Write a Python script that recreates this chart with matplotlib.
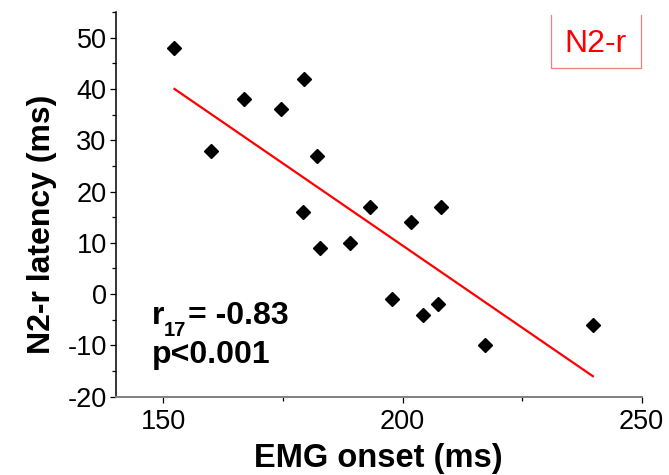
import matplotlib
matplotlib.use("Agg")
import matplotlib.pyplot as plt
from matplotlib.ticker import MultipleLocator
from matplotlib.lines import Line2D

plt.rcParams['font.family'] = ['Liberation Sans', 'DejaVu Sans']
plt.rcParams['axes.unicode_minus'] = False

# EMG onset vs. N2-r latency, one diamond per subject
emg_onset = [152.3, 179.4, 166.8, 174.6, 159.9, 182.2, 179.2, 182.8, 189.0,
             193.2, 208.0, 201.8, 197.7, 207.5, 204.2, 217.3, 239.8]
n2r_latency = [48, 42, 38, 36, 28, 27, 16, 9, 10,
               17, 17, 14, -1, -2, -4, -10, -6]

# linear fit line endpoints
fit_x = [152.3, 239.8]
fit_y = [40.0, -16.0]

x_ticks = [150, 200, 250]
y_ticks = [-20, -10, 0, 10, 20, 30, 40, 50]

fig = plt.figure(figsize=(6.69, 4.75), dpi=100)
ax = fig.add_axes([0.1729, 0.1648, 0.7862, 0.8099])

ax.plot(fit_x, fit_y, color='#ff0000', lw=1.6, zorder=2)
ax.plot(emg_onset, n2r_latency, linestyle='none', marker='D', ms=7.6,
        color='black', zorder=3)

ax.set_xlim(140, 250)
ax.set_ylim(-20, 55)
ax.set_xticks(x_ticks)
ax.set_yticks(y_ticks)
ax.xaxis.set_minor_locator(MultipleLocator(25))
ax.yaxis.set_minor_locator(MultipleLocator(5))

for s in ('top', 'right'):
    ax.spines[s].set_visible(False)
ax.spines['left'].set_linewidth(1.1)
ax.spines['left'].set_color('black')
ax.spines['bottom'].set_linewidth(1.4)
ax.spines['bottom'].set_color('#808080')

ax.tick_params(which='major', direction='out', length=4.5, width=0.9,
               labelsize=19.5, pad=2)
ax.tick_params(axis='x', which='major', pad=4)
ax.tick_params(which='minor', direction='out', length=2.6, width=0.9)

ax.set_xlabel('EMG onset (ms)', fontsize=23.5, fontweight='bold', labelpad=6)
ax.set_ylabel('N2-r latency (ms)', fontsize=23, fontweight='bold')
ax.yaxis.set_label_coords(-0.112, 0.449)

# correlation annotation: r with subscript degrees of freedom
anchor = (0.068, 0.19)
common = dict(xycoords='axes fraction', textcoords='offset points',
              fontweight='bold', ha='left', va='baseline')
ax.annotate('r', xy=anchor, xytext=(0, 0), fontsize=23, **common)
ax.annotate('17', xy=anchor, xytext=(9.0, -9.0), fontsize=14.5, **common)
ax.annotate('= -0.83', xy=anchor, xytext=(26.5, 0), fontsize=23, **common)
ax.text(0.068, 0.088, 'p<0.001', transform=ax.transAxes,
        fontsize=23, fontweight='bold', ha='left', va='baseline')

# label box in the upper right corner (open at the top)
bx0, bx1, by0, by1 = 550.7 / 669, 640.7 / 669, 1 - 68.3 / 475, 1 - 15 / 475
box_col = '#f08080'
fig.add_artist(Line2D([bx0, bx0, bx1, bx1], [by1, by0, by0, by1],
                      transform=fig.transFigure, color=box_col, lw=0.9))
fig.text((bx0 + bx1) / 2, (by0 + by1) / 2 - 0.006, 'N2-r', color='#ff0000',
         fontsize=23, ha='center', va='center')

fig.savefig('out.png', dpi=100)
